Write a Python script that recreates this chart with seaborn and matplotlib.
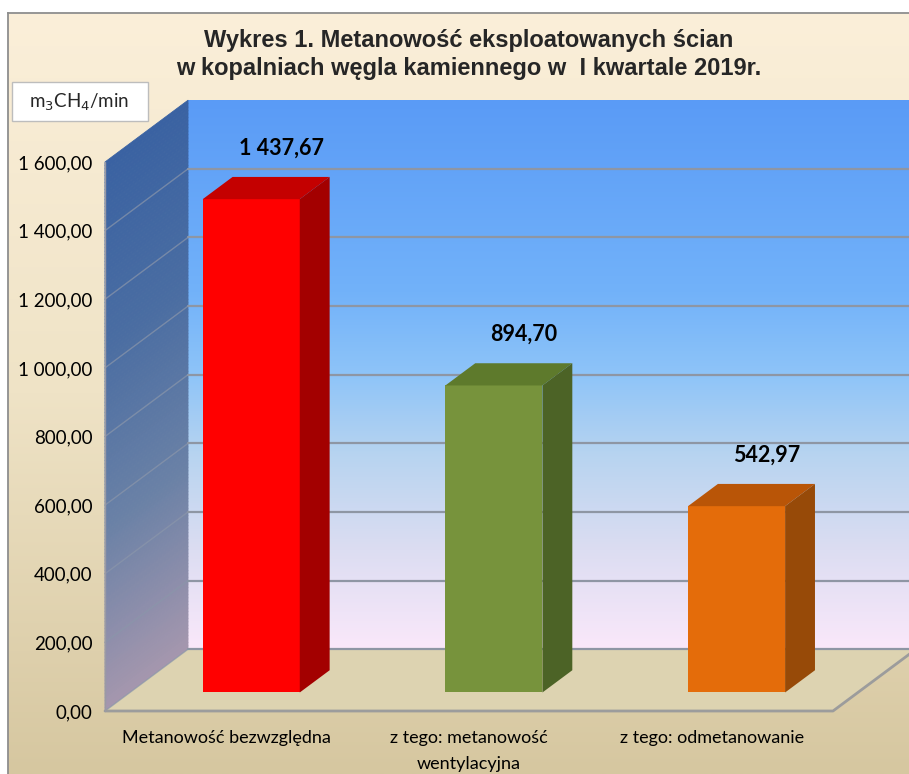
import numpy as np
import matplotlib
matplotlib.use("Agg")
import matplotlib.pyplot as plt
from matplotlib.colors import LinearSegmentedColormap
from matplotlib.collections import PolyCollection
from matplotlib.patches import Polygon, Rectangle
import seaborn as sns

# DATA

categories = [
    "Metanowość bezwzględna",
    "z tego: metanowość\nwentylacyjna",
    "z tego: odmetanowanie"
]

values = [1437.67, 894.70, 542.97]

front_colors = ["#FF0000", "#77933C", "#E46C0A"]
top_colors = ["#C40000", "#5E7A2C", "#B95507"]
side_colors = ["#A30000", "#4C6326", "#974A08"]

yticks = [0, 200, 400, 600, 800, 1000, 1200, 1400, 1600]

title_lines = [
    "Wykres 1. Metanowość eksploatowanych ścian",
    "w kopalniach węgla kamiennego w  I kwartale 2019r."
]
unit = "m$_3$CH$_4$/min"


def pl(v):
    return f"{v:,.2f}".replace(",", " ").replace(".", ",")


sns.set_theme(style="white")
plt.rcParams["font.family"] = ["Lato", "DejaVu Sans"]

fig = plt.figure(figsize=(9.09, 7.74), dpi=100)
fig.patch.set_facecolor("white")

# BACKGROUND PANEL

bg = fig.add_axes([8 / 909, 0, 1 - 8 / 909, 1 - 13 / 774], zorder=-5)
bg_cmap = LinearSegmentedColormap.from_list("bg", ["#FBEFD9", "#EFE3C6", "#D6C7A0"])
bg.imshow(np.linspace(0, 1, 256).reshape(-1, 1), cmap=bg_cmap,
          aspect="auto", extent=[0, 1, 0, 1])
bg.set_xticks([])
bg.set_yticks([])
for s in ["right", "bottom"]:
    bg.spines[s].set_visible(False)
for s in ["left", "top"]:
    bg.spines[s].set_color("#8E8E8E")
    bg.spines[s].set_linewidth(1.3)

# MAIN AXES (front plane of the 3d box)

ax = fig.add_axes([105 / 909, 63 / 774, 728 / 909, 549 / 774])
ax.patch.set_alpha(0)

DX, DV = 0.342, 180.0     # depth offset of the box
D0, D1 = 0.30, 0.66       # bar front / back depth
XL, XR = -0.5, 2.5
TOP = yticks[-1]

# back wall
wall_cmap = LinearSegmentedColormap.from_list(
    "wall",
    [(0.0, "#5A9BF6"), (0.35, "#72B2FA"), (0.5, "#8EC4F8"),
     (0.65, "#B8D4F0"), (0.82, "#DCDDF2"), (1.0, "#FAE8FA")]
)
im = ax.imshow(np.linspace(0, 1, 256).reshape(-1, 1), cmap=wall_cmap,
               aspect="auto", extent=[XL + DX, XR + DX + 0.5, DV, TOP + DV],
               zorder=0)
im.set_clip_on(False)

# side wall, gradient made of thin slanted bands
side_cmap = LinearSegmentedColormap.from_list(
    "side", ["#3A62A2", "#4A6DA2", "#6A81A6", "#A597AE"])
n_bands = 160
edges = np.linspace(0, TOP, n_bands + 1)
bands = []
band_colors = []
for k in range(n_bands):
    a, b = edges[k], edges[k + 1]
    bands.append([(XL, a), (XL, b), (XL + DX, b + DV), (XL + DX, a + DV)])
    band_colors.append(side_cmap(1 - (a + b) / 2 / TOP))
pc = PolyCollection(bands, facecolors=band_colors, edgecolors=band_colors,
                    linewidths=0.6, zorder=1)
pc.set_clip_on(False)
ax.add_collection(pc)

# floor
floor = Polygon([(XL, 0), (XR, 0), (XR + DX, DV), (XL + DX, DV)],
                closed=True, facecolor="#DDD3B1", edgecolor="none",
                zorder=1)
ax.add_patch(floor)
floor.set_clip_on(False)

# gridlines
for v in yticks[:-1]:
    ax.plot([XL + DX, XR + DX + 0.5], [v + DV, v + DV], color="#8E96A4",
            linewidth=1.6, zorder=2, clip_on=False)
    ax.plot([XL, XL + DX], [v, v + DV], color="#8A96AA",
            linewidth=1.0, zorder=2, clip_on=False, alpha=0.7)

# floor edges
ax.plot([XL, XR, XR + DX], [0, 0, DV], color="#9C9C9C", linewidth=2.0,
        zorder=2, clip_on=False)
ax.plot([XL, XL], [0, TOP], color="#9A9AA4", linewidth=1.0, zorder=2,
        clip_on=False)

# BARS

sns.barplot(x=categories, y=values, hue=categories, palette=front_colors,
            width=0.4, saturation=1, legend=False, ax=ax, zorder=4)

bars = [p for p in ax.patches if isinstance(p, Rectangle)]

for i, p in enumerate(bars):
    p.set_x(p.get_x() + D0 * DX)
    p.set_y(D0 * DV)
    p.set_edgecolor("none")
    p.set_clip_on(False)

    x0 = p.get_x()
    x1 = x0 + p.get_width()
    v = values[i]
    ddx = (D1 - D0) * DX
    ddv = (D1 - D0) * DV

    top = Polygon([(x0, v + D0 * DV), (x1, v + D0 * DV),
                   (x1 + ddx, v + D0 * DV + ddv), (x0 + ddx, v + D0 * DV + ddv)],
                  closed=True, facecolor=top_colors[i], edgecolor="none",
                  zorder=4, clip_on=False)
    ax.add_patch(top)

    side = Polygon([(x1, D0 * DV), (x1, v + D0 * DV),
                    (x1 + ddx, v + D0 * DV + ddv), (x1 + ddx, D0 * DV + ddv)],
                   closed=True, facecolor=side_colors[i], edgecolor="none",
                   zorder=4, clip_on=False)
    ax.add_patch(side)

    ax.text(i + D1 * DX, v + D1 * DV + 84, pl(v), ha="center", va="center",
            fontsize=15.5, fontweight="bold", color="black", zorder=6,
            clip_on=False)

# AXES

ax.set_xlim(XL, XR)
ax.set_ylim(0, TOP)

ax.set_yticks(yticks, labels=[pl(v) for v in yticks])
ax.tick_params(axis="y", length=0, pad=9, labelsize=13.5, labelcolor="black")
ax.tick_params(axis="x", length=0, pad=14, labelsize=13, labelcolor="black")
for t in ax.get_xticklabels():
    t.set_linespacing(1.75)
    t.set_verticalalignment("top")

ax.set_xlabel("")
ax.set_ylabel("")
for s in ax.spines.values():
    s.set_visible(False)
ax.grid(False)

# TITLE AND UNIT BOX

for line, ypx in zip(title_lines, [40, 68]):
    fig.text(469 / 909, 1 - ypx / 774, line, ha="center", va="center",
             fontsize=17, fontweight="bold",
             family=["Liberation Sans", "DejaVu Sans"])

fig.add_artist(Rectangle((12 / 909, 1 - 121 / 774), 136 / 909, 39 / 774,
                         transform=fig.transFigure, facecolor="white",
                         edgecolor="#BDBDBD", linewidth=1.0, zorder=5))
fig.text(79 / 909, 1 - 102 / 774, unit, ha="center", va="center",
         fontsize=13.5, zorder=6)

plt.savefig("out.png", dpi=100)
